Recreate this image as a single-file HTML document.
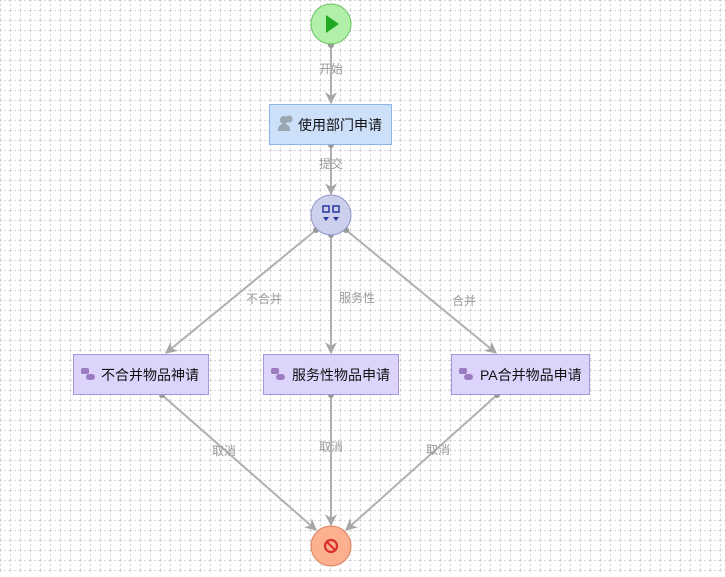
<!DOCTYPE html>
<html><head><meta charset="utf-8"><style>
body{margin:0;width:725px;height:572px;overflow:hidden;background:#fff;font-family:"Liberation Sans","Noto Sans CJK SC",sans-serif}
</style></head><body>
<svg width="725" height="572" xmlns="http://www.w3.org/2000/svg" font-family="Liberation Sans, Noto Sans CJK SC, sans-serif">
<defs>
<pattern id="g" width="10" height="10" patternUnits="userSpaceOnUse">
<path d="M0.5 0V10M0 0.5H10" stroke="#d8d8d8" stroke-width="1" stroke-dasharray="2,2"/>
</pattern>
<marker id="a" viewBox="0 0 10 10" refX="9" refY="5" markerWidth="12" markerHeight="12" markerUnits="userSpaceOnUse" orient="auto">
<path d="M0 0L10 5L0 10L3 5Z" fill="#a6a6a6"/>
</marker>
</defs>
<rect width="725" height="572" fill="url(#g)"/>
<g stroke="#b0b0b0" stroke-width="2" fill="none" marker-end="url(#a)">
<line x1="331" y1="45" x2="331" y2="103"/>
<line x1="331" y1="145" x2="331" y2="194"/>
<line x1="316" y1="230" x2="166" y2="353"/>
<line x1="331" y1="235" x2="331" y2="353"/>
<line x1="346" y1="230" x2="496" y2="353"/>
<line x1="162" y1="395" x2="316" y2="530"/>
<line x1="331" y1="395" x2="331" y2="525"/>
<line x1="497" y1="395" x2="346" y2="530"/>
</g>
<g fill="#999">
<circle cx="331" cy="45" r="3"/><circle cx="331" cy="145" r="3"/>
<circle cx="316" cy="230" r="3"/><circle cx="331" cy="235" r="3"/><circle cx="346" cy="230" r="3"/>
<circle cx="162" cy="395" r="3"/><circle cx="331" cy="395" r="3"/><circle cx="497" cy="395" r="3"/>
</g>
<g font-size="12" fill="#999" text-anchor="middle">
<text x="331" y="73">开始</text>
<text x="331" y="168">提交</text>
<text x="264" y="303">不合并</text>
<text x="357" y="302">服务性</text>
<text x="464" y="305">合并</text>
<text x="224" y="455">取消</text>
<text x="331" y="451">取消</text>
<text x="438" y="454">取消</text>
</g>
<circle cx="331" cy="24" r="20" fill="#b0f0a8" stroke="#6ac262" stroke-width="1"/>
<path d="M326 15L339 24L326 33Z" fill="#22aa22"/>
<rect x="269.5" y="104.5" width="122" height="40" fill="#cce0fa" stroke="#8fb4e0"/>
<g fill="#9aa6b0"><circle cx="284" cy="120" r="4"/><path d="M278 131c0-6 3-7 6-7s6 1 6 7z"/><circle cx="289" cy="119" r="3.5"/></g>
<text x="298" y="130" font-size="14" fill="#111">使用部门申请</text>
<circle cx="331" cy="215" r="20" fill="#ccd0ec" stroke="#8f96c8"/>
<g fill="#2838a0"><rect x="323" y="206" width="6" height="6" fill="none" stroke="#2838a0" stroke-width="1.5"/><rect x="333" y="206" width="6" height="6" fill="none" stroke="#2838a0" stroke-width="1.5"/><path d="M323 217h6l-3 4z M333 217h6l-3 4z"/></g>
<g font-size="14" fill="#111">
<rect x="73.5" y="354.5" width="135" height="40" fill="#dcd4fa" stroke="#a898d8"/>
<rect x="263.5" y="354.5" width="135" height="40" fill="#dcd4fa" stroke="#a898d8"/>
<rect x="451.5" y="354.5" width="138" height="40" fill="#dcd4fa" stroke="#a898d8"/>
<g fill="#9c7cc0">
<rect x="81" y="368" width="8" height="6" rx="2"/><rect x="86" y="374" width="9" height="6" rx="3"/>
<rect x="271" y="368" width="8" height="6" rx="2"/><rect x="276" y="374" width="9" height="6" rx="3"/>
<rect x="459" y="368" width="8" height="6" rx="2"/><rect x="464" y="374" width="9" height="6" rx="3"/>
</g>
<text x="101" y="380">不合并物品神请</text>
<text x="292" y="380">服务性物品申请</text>
<text x="480" y="380">PA合并物品申请</text>
</g>
<circle cx="331" cy="546" r="20" fill="#fcb090" stroke="#d8805c"/>
<circle cx="331" cy="546" r="6" fill="none" stroke="#d83030" stroke-width="2.2"/>
<line x1="327" y1="542" x2="335" y2="550" stroke="#d83030" stroke-width="2.2"/>
</svg>
</body></html>
